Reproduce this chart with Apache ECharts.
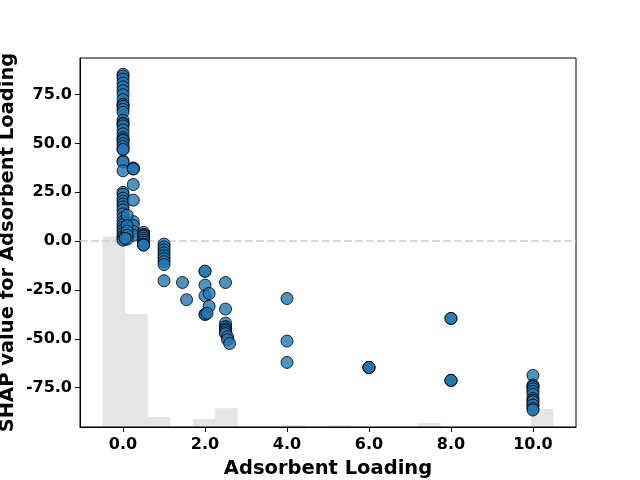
<!DOCTYPE html>
<html>
<head>
<meta charset="utf-8">
<script src="https://cdn.jsdelivr.net/npm/echarts@6/dist/echarts.min.js"></script>
<style>html,body{margin:0;padding:0;background:#fff;}#c{width:640px;height:480px;}</style>
</head>
<body>
<div id="c"></div>
<script>
// Feature values (Adsorbent Loading) and their SHAP values
const loading = [
  0,0,0,0,0,0,0,0,0,0,0,0,0,0,0,0,0,0,0,0,0,0,0,0,0,0,
  0,0,0,0,0,0,0,0,0,0,0,0,0,0,0,0,0,0,0,0,
  0.25,0.25,0.25,0.25,0.25,0.25,0.25,0.25,0.25,
  0.1,0.1,0.1,0.1,0.1,0.05,
  0.5,0.5,0.5,0.5,0.5,0.5,0.5,0.5,0.5,0.5,
  1,1,1,1,1,1,1,1,1,
  1.45,1.55,
  2,2,2,2,2,2,2.1,2.1,2.05,
  2.5,2.5,2.5,2.5,2.5,2.5,2.5,2.5,2.5,2.55,2.55,2.6,
  4,4,4,
  6,6,6,
  8,8,8,8,8,
  10,10,10,10,10,10,10,10,10,10,10,10,10,10
];
const shap = [
  85.5,84.5,83,81,79,77,75,72.5,70,70,69,67.5,66,62,60.5,60,59,57,55,53,52,51.5,50,48.5,47,47,
  41,40.5,36,25,24,22,20.5,19,17.5,16,14,12,10,8.5,7,5.5,4,2.5,1.5,0.5,
  37.5,37,37,29,21,10,8,5,3,
  13.3,8,5,3,1,1.4,
  4.5,3.5,3,2.5,1.5,0.5,-0.5,-1.5,-2,-2,
  -1.5,-3,-4.5,-6,-7.5,-9,-10.5,-12,-20.3,
  -21.2,-30,
  -15.4,-15.4,-22.5,-28,-37.5,-37.5,-26.8,-33.3,-37,
  -21.2,-34.8,-42,-43.9,-43.9,-45,-45.6,-46.5,-47.4,-49,-50.5,-52.4,
  -29.4,-51.2,-62.1,
  -64.7,-64.7,-64.7,
  -39.6,-39.6,-71.3,-71.3,-71.3,
  -68.8,-73.7,-74.6,-74.6,-75.7,-77,-78.5,-80.6,-81.5,-82.3,-84,-84,-85.7,-86.5
];
// Histogram of the feature: bin edges and share of all samples in each bin
const histEdges = [-0.5,0.05,0.6,1.15,1.7,2.25,2.8,3.35,3.9,4.45,5.0,5.55,6.1,6.65,7.2,7.75,8.3,8.85,9.4,9.95,10.5];
const histShare = [0.516,0.306,0.027,0.003,0.022,0.051,0,0,0.005,0,0.005,0,0,0,0.011,0,0,0,0,0.049];
const xTicks = [0,2,4,6,8,10];
const yTicks = [-75,-50,-25,0,25,50,75];

const points = loading.map((x, i) => [x, shap[i]]);
const hist = histShare.map((h, i) => [histEdges[i], histEdges[i + 1], h]).filter(d => d[2] > 0);

const FONT = 'DejaVu Sans';
const chart = echarts.init(document.getElementById('c'), null, {renderer: 'canvas'});
chart.setOption({
  animation: false,
  backgroundColor: '#fff',
  grid: {left: 80, right: 64, top: 58, bottom: 53, outerBoundsMode: 'none', containLabel: false, show: true, borderColor: '#000', borderWidth: 1, backgroundColor: 'transparent'},
  xAxis: {
    type: 'value', min: -1.05, max: 11.05,
    name: 'Adsorbent Loading', nameLocation: 'middle', nameGap: 32, nameMoveOverlap: false,
    nameTextStyle: {fontFamily: FONT, fontWeight: 'bold', fontSize: 19.5, color: '#000'},
    axisLine: {show: true, onZero: false, lineStyle: {color: '#000', width: 1}},
    axisTick: {show: true, length: 5, lineStyle: {color: '#000'}, customValues: xTicks},
    axisLabel: {customValues: xTicks, margin: 10, fontFamily: FONT, fontWeight: 'bold', fontSize: 16, color: '#000', formatter: v => Number(v).toFixed(1)},
    splitLine: {show: false}
  },
  yAxis: [{
    type: 'value', min: -95.2, max: 93.8,
    name: 'SHAP value for Adsorbent Loading', nameLocation: 'middle', nameGap: 62, nameMoveOverlap: false,
    nameTextStyle: {fontFamily: FONT, fontWeight: 'bold', fontSize: 19.5, color: '#000'},
    axisLine: {show: true, onZero: false, lineStyle: {color: '#000', width: 1}},
    axisTick: {show: true, length: 5, lineStyle: {color: '#000'}, customValues: yTicks},
    axisLabel: {customValues: yTicks, margin: 8, fontFamily: FONT, fontWeight: 'bold', fontSize: 16, color: '#000', formatter: v => Number(v).toFixed(1)},
    splitLine: {show: false}
  }, {
    type: 'value', min: 0, max: 1, show: false, splitLine: {show: false}
  }],
  series: [{
    type: 'custom',
    yAxisIndex: 1,
    z: 1,
    silent: true,
    data: hist,
    renderItem: function (params, api) {
      const p0 = api.coord([api.value(0), api.value(2)]);
      const p1 = api.coord([api.value(1), 0]);
      return {
        type: 'rect',
        shape: {x: p0[0], y: p0[1], width: p1[0] - p0[0], height: p1[1] - p0[1]},
        style: {fill: '#000', opacity: 0.1}
      };
    }
  }, {
    type: 'scatter',
    z: 3,
    data: points,
    symbolSize: 12,
    itemStyle: {color: '#1f77b4', opacity: 0.8, borderColor: '#000', borderWidth: 1},
    markLine: {
      silent: true, symbol: 'none', label: {show: false},
      lineStyle: {color: '#cccccc', type: [7.7, 3.3], width: 1.5},
      data: [{yAxis: 0}],
      z: 2
    }
  }]
});
</script>
</body>
</html>
